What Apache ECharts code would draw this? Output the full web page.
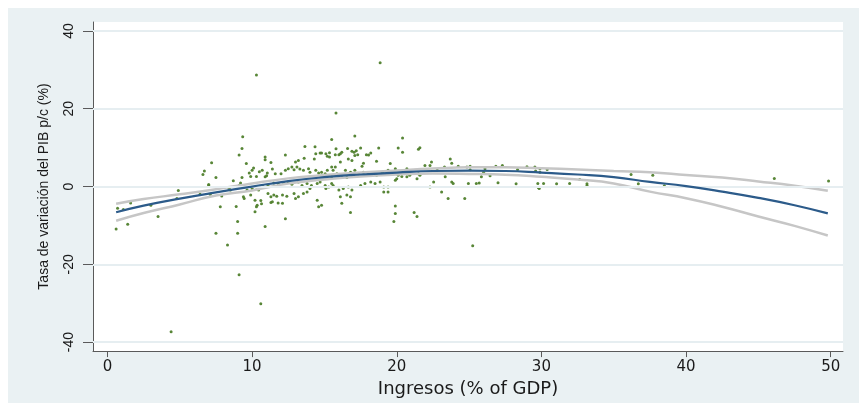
<!DOCTYPE html>
<html>
<head>
<meta charset="utf-8">
<script src="https://cdn.jsdelivr.net/npm/echarts@6/dist/echarts.min.js"></script>
<style>
  html, body { margin: 0; padding: 0; background: #ffffff; width: 859px; height: 403px; overflow: hidden; }
  #chart { position: absolute; left: 8px; top: 8px; width: 851px; height: 395px; }
</style>
</head>
<body>
<div id="chart"></div>
<script>
// ---- data ----
const xTickValues = [0, 10, 20, 30, 40, 50];
const yTickValues = [-40, -20, 0, 20, 40];

// quadratic fit (blue) and its confidence band (grey), read at these x positions
const fitX     = [0.6, 2.5, 5, 7.5, 10, 12.5, 15, 17.5, 20, 22.5, 25, 27.5, 30, 32.5, 35, 37.5, 40, 42.5, 45, 47.5, 49.8];
const fitY     = [-6.6, -4.9, -3.1, -1.5, 0.0, 1.4, 2.4, 3.1, 3.6, 4.0, 4.1, 4.0, 3.6, 3.1, 2.4, 1.2, 0.1, -1.3, -2.9, -4.8, -6.9];
const upperY   = [-4.4, -3.2, -2.0, -0.7, 0.8, 2.1, 2.95, 3.6, 4.15, 4.65, 4.95, 4.95, 4.7, 4.4, 4.0, 3.7, 3.0, 2.3, 1.3, 0.2, -1.1];
const lowerY   = [-8.8, -6.8, -4.6, -2.3, -1.0, 0.8, 1.8, 2.6, 3.1, 3.35, 3.25, 3.05, 2.5, 1.8, 0.8, -1.3, -3.0, -5.2, -7.7, -10.1, -12.6];

// scatter observations [ingresos (% of GDP), tasa de variación (%)]
const observations = [
  [0.6,-10.9],[0.7,-5.6],[1.1,-5.9],[1.4,-9.7],[1.6,-4.2],[3.0,-4.8],[3.5,-7.7],[4.4,-37.3],[4.8,-3.1],[4.9,-1.0],
  [6.4,-2.0],[6.7,4.0],[6.6,3.1],[7.2,6.1],[7.5,2.3],[7.0,0.5],[7.0,0.3],[7.1,-2.0],[7.5,-12.0],[7.8,-5.2],
  [7.9,-2.4],[8.3,-15.0],[8.4,-0.5],[8.5,-0.9],[8.7,1.5],[8.9,-5.1],[9.0,-9.0],[9.0,-12.0],[9.1,-22.7],[9.1,0.3],
  [9.1,8.1],[9.2,0.9],[9.3,9.8],[9.3,2.3],[9.35,12.8],[9.4,-0.1],[9.4,-2.6],[9.45,-3.1],[9.6,5.9],[9.65,-0.9],
  [9.8,3.5],[9.9,2.6],[9.9,-2.2],[10.0,4.2],[10.0,-0.5],[10.1,4.8],[10.2,-3.5],[10.2,-6.5],[10.3,28.7],[10.3,2.6],
  [10.3,-5.2],[10.3,-0.1],[10.35,-4.8],[10.45,-0.9],[10.5,3.8],[10.6,-3.6],[10.6,-30.1],[10.65,-4.4],[10.7,4.2],[10.7,0.3],
  [10.9,-10.3],[10.9,7.6],[10.9,6.9],[10.9,2.5],[11.0,2.8],[11.05,3.5],[11.1,0.3],[11.1,-1.8],[11.3,6.2],[11.3,-2.6],
  [11.3,-4.1],[11.4,4.5],[11.4,-3.9],[11.5,0.9],[11.5,-2.2],[11.6,3.3],[11.7,-2.5],[11.8,0.8],[11.8,-4.2],[12.0,3.3],
  [12.1,-2.2],[12.1,-4.3],[12.2,0.8],[12.3,4.2],[12.3,8.1],[12.3,-8.3],[12.4,-2.5],[12.5,4.6],[12.5,1.2],[12.75,5.0],
  [12.75,0.6],[12.9,4.3],[12.9,-1.8],[13.0,6.3],[13.0,-3.1],[13.1,5.0],[13.2,6.7],[13.2,1.2],[13.2,-2.6],[13.3,4.5],
  [13.45,0.3],[13.55,4.2],[13.55,-1.8],[13.6,7.3],[13.65,10.3],[13.8,0.8],[13.8,-1.4],[13.9,4.6],[14.0,3.7],[14.0,-0.5],
  [14.1,0.3],[14.3,7.1],[14.35,10.2],[14.4,4.2],[14.4,8.4],[14.5,0.8],[14.5,-3.5],[14.6,3.5],[14.6,-5.2],[14.7,8.6],
  [14.7,1.2],[14.8,8.6],[14.8,3.7],[14.8,-4.8],[15.05,3.3],[15.05,0.3],[15.1,-0.5],[15.1,8.4],[15.2,4.2],[15.2,7.8],
  [15.3,-0.1],[15.35,7.6],[15.35,8.7],[15.5,12.1],[15.5,5.0],[15.5,0.8],[15.5,2.5],[15.6,4.2],[15.6,0.3],[15.75,5.0],
  [15.75,8.2],[15.8,9.7],[15.8,18.9],[15.86,3.3],[16.0,8.2],[16.0,-0.9],[16.1,6.3],[16.1,-2.6],[16.1,8.4],[16.2,8.8],
  [16.2,2.9],[16.2,-4.3],[16.3,-0.5],[16.45,4.2],[16.55,2.3],[16.55,-2.2],[16.6,9.8],[16.65,7.1],[16.65,-0.1],[16.8,3.7],
  [16.85,3.5],[16.8,-2.6],[16.8,-6.7],[16.9,9.1],[16.9,6.7],[16.9,-0.9],[17.0,2.9],[17.05,8.8],[17.1,13.0],[17.1,8.0],
  [17.1,4.2],[17.2,9.2],[17.3,8.2],[17.35,3.3],[17.5,9.9],[17.5,0.3],[17.6,5.2],[17.7,6.0],[17.7,3.7],[17.8,0.8],
  [17.9,8.2],[18.05,3.3],[18.05,8.1],[18.2,8.6],[18.2,1.2],[18.4,3.5],[18.5,0.8],[18.6,6.5],[18.6,2.9],[18.75,9.9],
  [18.85,31.8],[18.85,1.2],[19.0,3.7],[19.1,-0.1],[19.1,-1.4],[19.2,3.1],[19.4,4.2],[19.4,-0.1],[19.4,-1.4],[19.55,5.9],
  [19.65,3.5],[19.8,-9.0],[19.9,4.6],[19.9,1.6],[19.9,-5.0],[19.9,-6.9],[20.0,2.0],[20.1,2.9],[20.1,9.9],[20.35,2.6],
  [20.4,12.5],[20.4,8.8],[20.7,4.6],[20.7,2.5],[20.9,2.9],[21.2,-6.7],[21.4,2.0],[21.4,-7.7],[21.5,3.3],[21.5,9.6],
  [21.6,10.0],[21.6,2.9],[21.95,5.4],[22.3,5.4],[22.3,-0.1],[22.4,6.3],[22.55,1.2],[22.8,4.2],[23.1,-1.4],[23.3,5.0],
  [23.35,2.5],[23.55,-3.1],[23.7,7.1],[23.8,6.0],[23.8,1.2],[23.9,0.8],[24.25,5.2],[24.7,-3.1],[24.85,5.0],[24.95,0.8],
  [25.07,5.2],[25.07,4.3],[25.25,-15.2],[25.5,0.8],[25.7,0.9],[25.85,2.5],[26.0,3.7],[26.1,4.6],[26.45,2.8],[26.85,5.2],
  [27.0,1.0],[27.3,5.4],[28.25,0.7],[28.35,4.4],[29.0,5.1],[29.55,5.0],[29.6,4.0],[29.75,0.8],[29.8,-0.3],[29.85,-0.5],
  [29.9,4.6],[29.9,3.7],[30.15,0.8],[30.4,4.4],[31.05,0.7],[31.95,0.8],[32.65,1.8],[33.15,0.7],[33.15,0.3],[36.2,3.1],
  [36.7,0.7],[37.7,2.9],[38.5,0.2],[46.1,2.1],[49.85,1.4]
];

const xAxisTitle = 'Ingresos (% of GDP)';
const yAxisTitle = 'Tasa de variación del PIB p/c (%)';

// ---- build chart ----
const pairs = (xs, ys) => xs.map((x, i) => [x, ys[i]]);

const chart = echarts.init(document.getElementById('chart'), null, { renderer: 'canvas' });

const axisColor = '#5a5a5a';
const textColor = '#1a1a1a';

chart.setOption({
  animation: false,
  backgroundColor: '#eaf1f3',
  grid: { left: 85, right: 16, top: 14, bottom: 49, show: true, backgroundColor: '#ffffff', borderWidth: 0 },
  xAxis: {
    type: 'value', min: -1, max: 50.85,
    name: xAxisTitle, nameLocation: 'middle', nameGap: 20,
    nameTextStyle: { fontFamily: 'DejaVu Sans', fontSize: 18, color: textColor },
    axisLine: { show: true, onZero: false, lineStyle: { color: axisColor, width: 1 } },
    axisTick: { show: true, inside: false, length: 6, customValues: xTickValues, lineStyle: { color: axisColor } },
    axisLabel: { customValues: xTickValues, margin: 9, fontFamily: 'DejaVu Sans', fontSize: 15, color: textColor },
    splitLine: { show: false }
  },
  yAxis: {
    type: 'value', min: -42.3, max: 42.3,
    name: yAxisTitle, nameLocation: 'middle', nameGap: 42, nameRotate: 90,
    nameTextStyle: { fontFamily: 'Liberation Sans', fontSize: 14, color: textColor },
    axisLine: { show: true, onZero: false, lineStyle: { color: axisColor, width: 1 } },
    axisTick: { show: true, inside: false, length: 10, customValues: yTickValues, lineStyle: { color: axisColor } },
    axisLabel: { customValues: yTickValues, rotate: 90, margin: 17, fontFamily: 'Liberation Sans', fontSize: 14, color: textColor },
    splitLine: { show: false }
  },
  series: [
    {
      name: 'grid', type: 'line', data: [], z: 1, silent: true,
      markLine: {
        silent: true, symbol: ['none', 'none'], label: { show: false },
        lineStyle: { color: '#e6eef1', width: 2, type: 'solid' },
        data: yTickValues.map(v => ({ yAxis: v }))
      }
    },
    {
      name: 'obs', type: 'scatter', data: observations, z: 3,
      symbol: 'circle', symbolSize: 3,
      itemStyle: { color: '#4f7f2c', opacity: 0.95 }
    },
    {
      name: 'upper', type: 'line', data: pairs(fitX, upperY), z: 4, showSymbol: false, smooth: true,
      lineStyle: { color: '#c6c6c6', width: 2.5 }
    },
    {
      name: 'lower', type: 'line', data: pairs(fitX, lowerY), z: 4, showSymbol: false, smooth: true,
      lineStyle: { color: '#c6c6c6', width: 2.5 }
    },
    {
      name: 'fit', type: 'line', data: pairs(fitX, fitY), z: 5, showSymbol: false, smooth: true,
      lineStyle: { color: '#2c5b8a', width: 2.2 }
    }
  ]
});
</script>
</body>
</html>
